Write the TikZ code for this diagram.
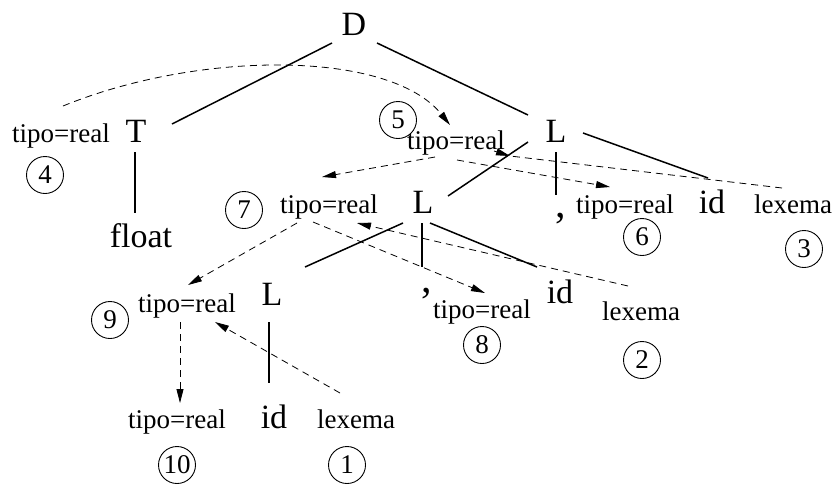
\documentclass[tikz,border=0pt]{standalone}
\usepackage{fontspec}
\setmainfont{Liberation Serif}
\usetikzlibrary{arrows.meta,calc}
\begin{document}
\begin{tikzpicture}[x=1pt,y=-1pt,
  big/.style={font=\fontsize{34}{40}\selectfont, inner sep=0pt, anchor=base},
  sep/.style={font=\fontsize{42}{48}\selectfont, inner sep=0pt, anchor=base},
  attr/.style={font=\fontsize{27}{32}\selectfont, inner sep=0pt, anchor=base},
  num/.style={circle, draw, line width=0.9pt, minimum size=37pt, inner sep=0pt,
              font=\fontsize{27}{32}\selectfont},
  edge/.style={line width=1.5pt},
  dep/.style={dash pattern=on 7pt off 5pt, line width=0.8pt,
              -{Triangle[length=14pt,width=7pt]}},
]
\useasboundingbox (0,0) rectangle (837,483);

% grammar symbols of the parse tree
\node[big] (D)  at (354,35)  {D};
\node[big] (T)  at (136,142) {T};
\node[big] (fl) at (141,247) {float};
\node[big] (L1) at (556,142) {L};
\node[sep] (c1) at (561,217) {,};
\node[big] (id3) at (712,213) {id};
\node[big] (L2) at (423,213) {L};
\node[sep] (c2) at (427,292) {,};
\node[big] (id2) at (560,303) {id};
\node[big] (L3) at (272,305) {L};
\node[big] (id1) at (274,428) {id};

% attributes
\node[attr] (t4)  at (61,142)  {tipo=real};
\node[attr] (t5)  at (456,149) {tipo=real};
\node[attr] (t6)  at (625,213) {tipo=real};
\node[attr] (lx3) at (793,213) {lexema};
\node[attr] (t7)  at (329,213) {tipo=real};
\node[attr] (t8)  at (482,318) {tipo=real};
\node[attr] (lx2) at (641,320) {lexema};
\node[attr] (t9)  at (187,312) {tipo=real};
\node[attr] (t10) at (177,428) {tipo=real};
\node[attr] (lx1) at (356,428) {lexema};

% evaluation order
\node[num] (n1)  at (347,465) {1};
\node[num] (n2)  at (642,360) {2};
\node[num] (n3)  at (804,249) {3};
\node[num] (n4)  at (45,175)  {4};
\node[num] (n5)  at (398,120) {5};
\node[num] (n6)  at (642,237) {6};
\node[num] (n7)  at (244,210) {7};
\node[num] (n8)  at (482,345) {8};
\node[num] (n9)  at (110,320) {9};
\node[num] (n10) at (177,465) {10};

% tree edges
\draw[edge] ($(D.base)+(-22,8)$)  -- ($(T.base)+(36,-18)$);
\draw[edge] ($(D.base)+(23,8)$)   -- ($(L1.base)+(-28,-27)$);
\draw[edge] ($(T.base)+(-1,10)$)  -- ($(fl.base)+(-6,-34)$);
\draw[edge] ($(L1.base)+(-28,0)$) -- ($(L2.base)+(25,-17)$);
\draw[edge] ($(L1.base)+(0,10)$)  -- ($(c1.base)+(-5,-22)$);
\draw[edge] ($(L1.base)+(27,-9)$) -- ($(id3.base)+(-4,-35)$);
\draw[edge] ($(L2.base)+(-20,10)$) -- ($(L3.base)+(33,-38)$);
\draw[edge] ($(L2.base)+(-1,10)$) -- ($(c2.base)+(-5,-25)$);
\draw[edge] ($(L2.base)+(7,10)$)  -- ($(id2.base)+(-23,-36)$);
\draw[edge] ($(L3.base)+(-3,17)$) -- ($(id1.base)+(-5,-45)$);

% dependency edges
\draw[dep] ($(t4.base)+(2,-36)$) .. controls +(137,-56) and +(-60,-75) .. ($(t5.base)+(-6,-24)$);
\draw[dep] ($(t5.base)+(-21,8)$) -- ($(t7.base)+(-7,-36)$);
\draw[dep] ($(t5.base)+(1,11)$)  -- ($(t6.base)+(-15,-26)$);
\draw[dash pattern=on 7pt off 5pt, line width=0.8pt] ($(lx3.base)+(-11,-25)$) -- ($(t5.base)+(54,7)$);
\draw[line width=0.8pt, -{Triangle[length=14pt,width=7pt]}] ($(t5.base)+(38,2)$) -- ($(t5.base)+(54,7)$);
\draw[dep] ($(lx2.base)+(-13,-34)$) -- ($(t7.base)+(28,10)$);
\draw[dep] ($(t7.base)+(-16,9)$)  -- ($(t8.base)+(3,-25)$);
\draw[dep] ($(t7.base)+(-32,10)$) -- ($(t9.base)+(1,-27)$);
\draw[dep] ($(lx1.base)+(-16,-35)$) -- ($(t9.base)+(28,10)$);
\draw[dep] ($(t9.base)+(-7,10)$)  -- ($(t10.base)+(3,-25)$);
\end{tikzpicture}
\end{document}
